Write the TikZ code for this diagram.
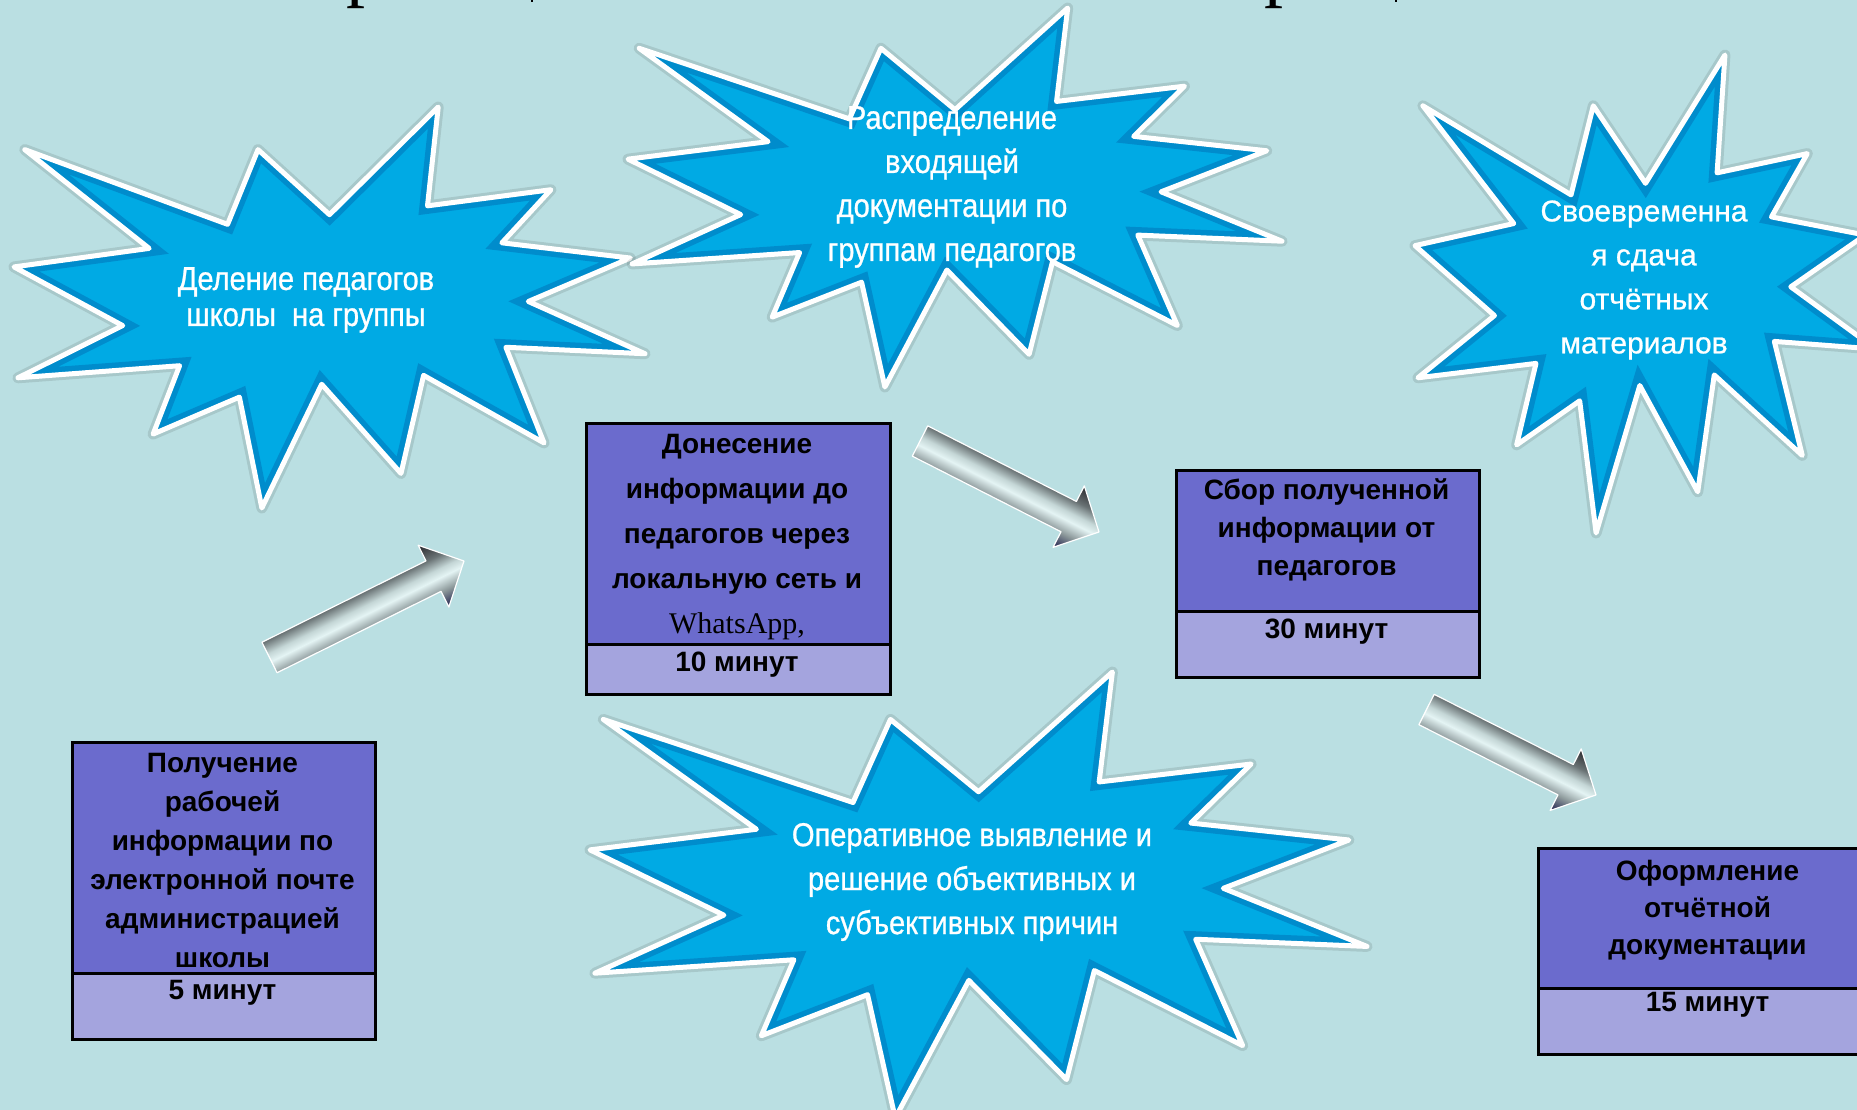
\documentclass[tikz,border=0pt]{standalone}
\usepackage{fontspec}
\setmainfont{Liberation Sans}
\newfontfamily\narrowf[FakeStretch=0.88,FakeBold=0.8]{Liberation Sans}
\newfontfamily\starreg[FakeBold=0.8]{Liberation Sans}
\newfontfamily\seriff{Liberation Serif}
\usetikzlibrary{calc}
\definecolor{bgc}{RGB}{186,223,226}
\definecolor{starfill}{RGB}{0,170,228}
\definecolor{stardark}{RGB}{0,105,175}
\definecolor{boxtop}{RGB}{107,107,205}
\definecolor{boxbot}{RGB}{164,164,222}
\definecolor{acA}{RGB}{30,30,75}
\definecolor{acB}{RGB}{140,152,154}
\definecolor{acC}{RGB}{228,244,244}
\definecolor{acD}{RGB}{196,214,214}
\definecolor{acE}{RGB}{105,114,116}
\definecolor{acF}{RGB}{40,40,44}
\pgfdeclareverticalshading{arrshade}{100bp}{color(0bp)=(acA); color(25bp)=(acA); color(37bp)=(acB); color(47bp)=(acC); color(53bp)=(acD); color(62bp)=(acE); color(75bp)=(acF); color(100bp)=(acF)}
\tikzset{
  sealpath/.style={insert path={(50,26.85) -- (67.23,0) -- (65.53,24.65) -- (85.09,20.63) -- (77.32,33.87) -- (97.67,37.67) -- (81.51,48.50) -- (100,61.53) -- (77.95,59.92) -- (84,83.77) -- (64.91,66.93) -- (61.33,91.38) -- (48.76,69.14) -- (39.28,100) -- (35.72,72.35) -- (22.05,81.56) -- (26.24,64.52) -- (0.63,67.53) -- (17.23,54.51) -- (0,39.88) -- (21.42,35.26) -- (1.71,10.63) -- (33.85,29.26) -- (38.67,10.63) -- cycle}},
  tpart/.style={draw=black, line width=2.5pt, fill=boxtop, anchor=north west, inner sep=0pt, minimum width=303pt},
  bpart/.style={draw=black, line width=2.5pt, fill=boxbot, anchor=north west, inner sep=0pt, minimum width=303pt},
  boxtxt/.style={font=\fontsize{28}{39}\selectfont\bfseries, align=center, text=black, inner sep=0pt},
  startxt/.style={font=\narrowf\fontsize{33}{44}\selectfont, align=center, text=white, inner sep=0pt},
  arrowbody/.style={shading=arrshade, draw=white, line width=1.2pt, line join=round},
}
\newcommand\explosion[4]{%
  \begin{scope}[shift={(#1,#2)}, xscale=#3/100, yscale=#4/100]
    \draw[line width=11pt, black, opacity=0.10, line join=round, sealpath];
    \fill[starfill, sealpath];
    \begin{scope}
      \clip[sealpath];
      \draw[line width=16pt, stardark, opacity=0.45, sealpath];
    \end{scope}
    \draw[line width=5pt, white, line join=round, sealpath];
  \end{scope}}
\makeatletter
\newcommand\blockarrow[2]{%
  \pgfmathanglebetweenpoints{\pgfpointanchor{#1}{center}}{\pgfpointanchor{#2}{center}}%
  \edef\ba@ang{\pgfmathresult}%
  \pgfpointdiff{\pgfpointanchor{#1}{center}}{\pgfpointanchor{#2}{center}}%
  \edef\ba@dx{\the\pgf@x}\edef\ba@dy{\the\pgf@y}%
  \pgfmathveclen{\ba@dx}{\ba@dy}%
  \edef\ba@len{\pgfmathresult}%
  \begin{scope}[transform canvas={shift={(#1)},rotate=\ba@ang}]
    \shadedraw[arrowbody] (0pt,-17pt) -- (\ba@len pt-34pt,-17pt) -- (\ba@len pt-34pt,-34.5pt) -- (\ba@len pt,0pt) -- (\ba@len pt-34pt,34.5pt) -- (\ba@len pt-34pt,17pt) -- (0pt,17pt) -- cycle;
  \end{scope}}
\makeatother
\begin{document}
\begin{tikzpicture}[x=1pt,y=-1pt]
\useasboundingbox (0,0) rectangle (1857,1110);
\begin{scope}
\clip (0,0) rectangle (1857,1110);
\fill[bgc] (0,0) rectangle (1857,1110);
% cut-off title (descenders only)
\node[font=\seriff\fontsize{76}{76}\selectfont, anchor=base, inner sep=0pt, text=black] (ttl1) at (365,-7) {р};
\node[font=\seriff\fontsize{76}{76}\selectfont, anchor=base, inner sep=0pt, text=black] (ttl2) at (1283,-7) {р};
\draw[line width=1.2pt] (532,0) -- (532,2);
\draw[line width=1.2pt] (1396,0) -- (1396,2);
% stars
\explosion{14}{107}{631}{401}
\explosion{628}{8}{654}{379}
\explosion{1415}{55}{461}{478}
\explosion{590}{672}{777}{446}
\node[startxt, font=\narrowf\fontsize{33}{36}\selectfont] (s1) at (306,300) {Деление педагогов\\школы~ на группы};
\node[startxt] (s2) at (952,187) {Распределение\\входящей\\документации по\\группам педагогов};
\node[startxt, font=\starreg\fontsize{30}{44}\selectfont] (s3) at (1644,280) {Своевременна\\я сдача\\отчётных\\материалов};
\node[startxt] (s4) at (972,882) {Оперативное выявление и\\решение объективных и\\субъективных причин};
% boxes
\node[tpart, minimum height=231pt] (pA) at (71,741) {};
\node[bpart, minimum height=66pt] (qA) at (71,972) {};
\node[boxtxt] (tA) at (222.5,860) {Получение\\рабочей\\информации по\\электронной почте\\администрацией\\школы};
\node[boxtxt] (mA) at (222.5,993) {5 минут};
\node[tpart, minimum height=221pt, minimum width=304pt] (pB) at (585,422) {};
\node[bpart, minimum height=50pt, minimum width=304pt] (qB) at (585,643) {};
\node[boxtxt, font=\fontsize{28}{45}\selectfont\bfseries] (tB) at (737,537) {Донесение\\информации до\\педагогов через\\локальную сеть и\\{\seriff\mdseries\fontsize{30}{45}\selectfont WhatsApp,}};
\node[boxtxt] (mB) at (737,665) {10 минут};
\node[tpart, minimum height=141pt] (pC) at (1175,469) {};
\node[bpart, minimum height=66pt] (qC) at (1175,610) {};
\node[boxtxt, font=\fontsize{28}{38}\selectfont\bfseries] (tC) at (1326.5,530) {Сбор полученной\\информации от\\педагогов};
\node[boxtxt] (mC) at (1326.5,632) {30 минут};
\node[tpart, minimum height=140pt, minimum width=341pt] (pD) at (1537,847) {};
\node[bpart, minimum height=66pt, minimum width=341pt] (qD) at (1537,987) {};
\node[boxtxt, font=\fontsize{28}{37}\selectfont\bfseries] (tD) at (1707.5,910) {Оформление\\отчётной\\документации};
\node[boxtxt] (mD) at (1707.5,1005) {15 минут};
% arrows
\coordinate (a1s) at (269.5,657.5); \coordinate (a1e) at (464,561);
\coordinate (a2s) at (920,441);     \coordinate (a2e) at (1099,532);
\coordinate (a3s) at (1426.5,709.5);\coordinate (a3e) at (1596,795);
\blockarrow{a1s}{a1e}
\blockarrow{a2s}{a2e}
\blockarrow{a3s}{a3e}
\end{scope}
\end{tikzpicture}
\end{document}
